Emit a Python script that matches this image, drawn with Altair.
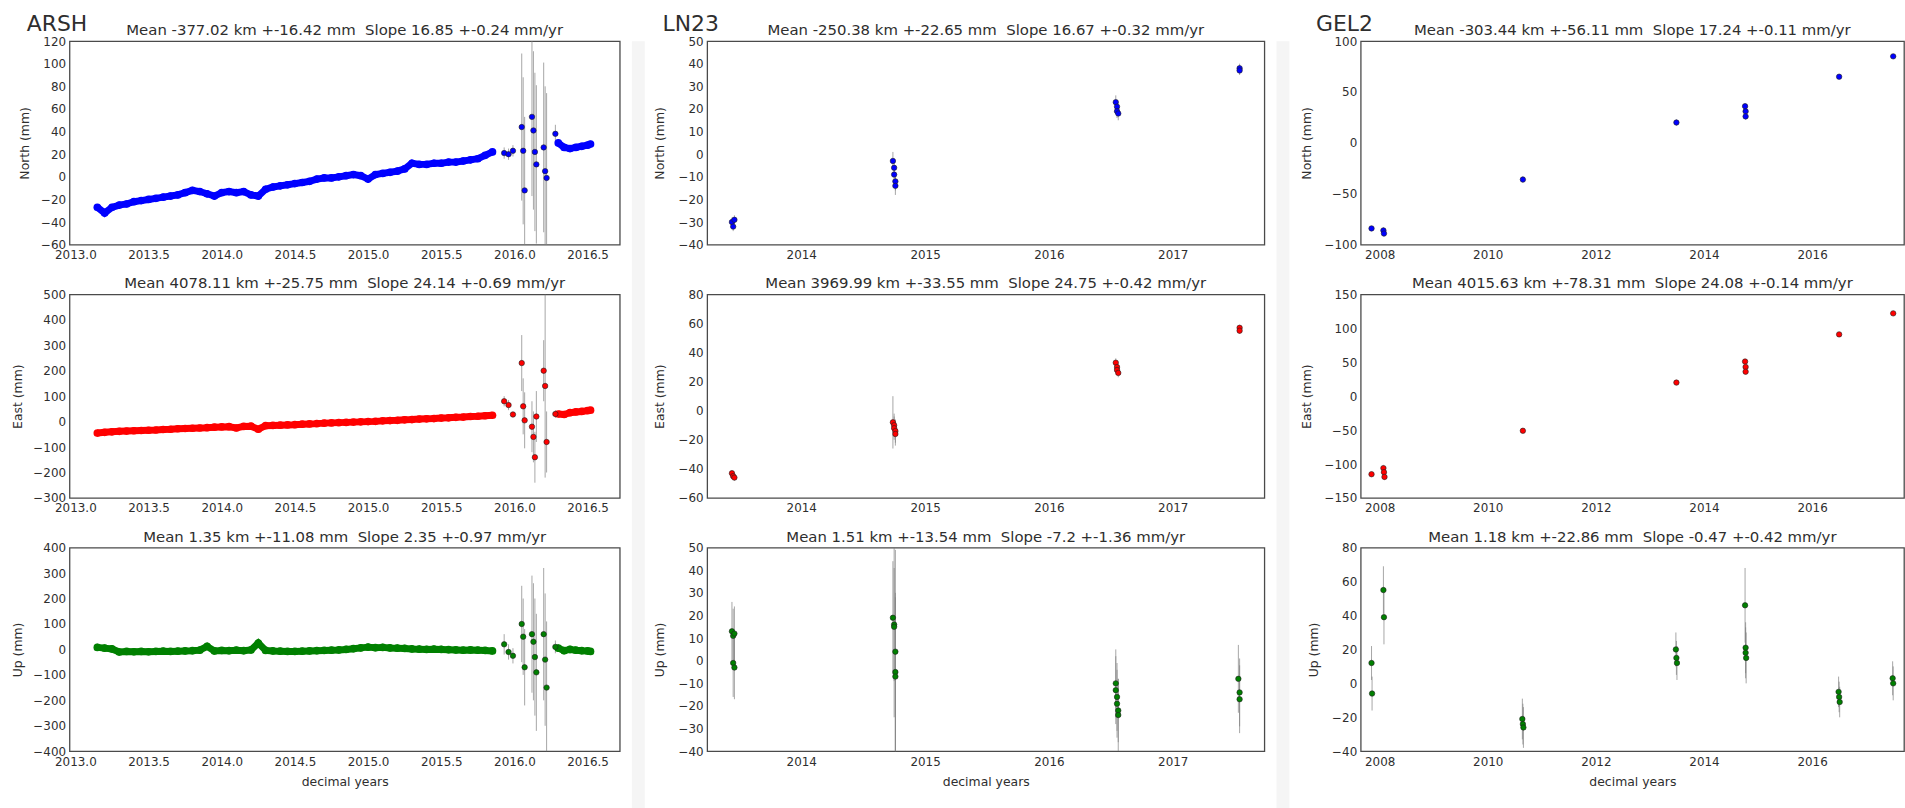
import altair as alt
import pandas as pd

FONT = "DejaVu Sans"
TXT = "#2e2e2e"
BLUE, RED, GREEN = "#0000ff", "#ff0000", "#008000"
ERR_COLOR = "#808080"

# ---------------------------------------------------------------- ARSH
# dense daily band (segment 1)
ARSH_T = [2013.15, 2013.20, 2013.25, 2013.30, 2013.35, 2013.40, 2013.45, 2013.50, 2013.55, 2013.60,
          2013.65, 2013.70, 2013.75, 2013.80, 2013.85, 2013.90, 2013.95, 2014.00, 2014.05, 2014.10,
          2014.15, 2014.20, 2014.25, 2014.30, 2014.35, 2014.40, 2014.45, 2014.50, 2014.55, 2014.60,
          2014.65, 2014.70, 2014.75, 2014.80, 2014.85, 2014.90, 2014.95, 2015.00, 2015.05, 2015.10,
          2015.15, 2015.20, 2015.25, 2015.30, 2015.35, 2015.40, 2015.45, 2015.50, 2015.55, 2015.60,
          2015.65, 2015.70, 2015.75, 2015.80, 2015.85]
ARSH_N = [-27, -32, -27, -25, -24, -22, -21, -20, -19, -18,
          -17, -16, -14, -12, -13, -15, -17, -14, -13, -14,
          -13, -16, -17, -11, -9, -8, -7, -6, -5, -4,
          -2, -1, -1, 0, 1, 2, 1, -2, 2, 3,
          4, 5, 7, 12, 11, 11, 12, 12, 13, 13,
          14, 15, 16, 19, 22]
ARSH_E = [-45, -42, -40, -38, -37, -36, -35, -34, -33, -31,
          -30, -28, -27, -26, -25, -24, -22, -21, -20, -25,
          -19, -18, -30, -16, -15, -14, -13, -12, -10, -9,
          -8, -6, -5, -4, -3, -2, -1, 0, 1, 3,
          4, 5, 7, 8, 10, 11, 12, 14, 15, 17,
          18, 20, 21, 23, 25]
ARSH_U = [8, 5, 2, -10, -8, -9, -8, -9, -8, -7,
          -8, -7, -6, -5, -3, 12, -6, -4, -5, -3,
          -5, -2, 25, -4, -6, -7, -8, -8, -7, -6,
          -5, -4, -3, -2, 0, 3, 6, 9, 7, 8,
          6, 5, 4, 2, 1, 0, 1, 0, -1, -2,
          -3, -2, -3, -4, -6]
ARSH_ERR = {"N": 3, "E": 6, "U": 14}
# dense daily band (segment 2, after the noisy period)
ARSH_T2 = [2016.30, 2016.34, 2016.38, 2016.42, 2016.46, 2016.50, 2016.52]
ARSH_N2 = [30, 26, 25, 26, 27, 28, 29]
ARSH_E2 = [30, 28, 35, 38, 40, 43, 45]
ARSH_U2 = [5, -5, 0, -3, -5, -6, -8]
# scattered solutions with large errors
ARSH_TS = [2015.93, 2015.96, 2015.99, 2016.05, 2016.06, 2016.07, 2016.12, 2016.13, 2016.14, 2016.15,
           2016.20, 2016.21, 2016.22, 2016.28]
ARSH_NS = [21, 20, 23, 44, 23, -12, 53, 41, 22, 11, 26, 5, -1, 38]
ARSH_NSE = [5, 5, 5, 65, 65, 65, 70, 70, 70, 70, 75, 75, 75, 8]
ARSH_ES = [80, 65, 28, 230, 60, 5, -20, -60, -140, 20, 200, 140, -80, 30]
ARSH_ESE = [20, 20, 10, 110, 110, 110, 100, 100, 100, 100, 120, 360, 120, 15]
ARSH_US = [20, -10, -25, 100, 50, -70, 60, 30, -30, -90, 60, -40, -150, 10]
ARSH_USE = [40, 30, 30, 150, 150, 150, 230, 230, 230, 230, 260, 260, 260, 25]

# ---------------------------------------------------------------- LN23
LN23_T = [2013.44, 2013.45, 2013.46, 2014.74, 2014.75, 2014.75, 2014.76, 2014.76,
          2016.54, 2016.55, 2016.55, 2016.56, 2017.54, 2017.54]
LN23_N = [-30, -32, -29, -3, -6, -9, -12, -14, 23, 21, 19, 18, 38, 37]
LN23_NE = [2, 2, 2, 4, 4, 4, 4, 4, 3, 3, 3, 3, 2, 2]
LN23_E = [-43, -45, -46, -8, -10, -12, -14, -16, 33, 30, 28, 26, 57, 55]
LN23_EE = [2, 2, 2, 18, 8, 8, 8, 8, 3, 3, 3, 3, 2, 2]
LN23_UT = [2013.44, 2013.45, 2013.45, 2013.46, 2013.46, 2014.74, 2014.75, 2014.75, 2014.76, 2014.76,
           2014.76, 2016.54, 2016.54, 2016.55, 2016.55, 2016.56, 2016.56, 2017.53, 2017.54, 2017.54]
LN23_U = [13, 11, -1, -3, 12, 19, 16, 15, 4, -5, -7, -10, -13, -16, -19, -22, -24, -8, -14, -17]
LN23_UE = [13, 12, 15, 14, 12, 25, 25, 40, 45, 35, 35, 15, 15, 15, 15, 14, 16, 15, 15, 15]

# ---------------------------------------------------------------- GEL2
GEL2_NT = [2007.85, 2008.07, 2008.08, 2010.65, 2013.49, 2014.76, 2014.77, 2014.77, 2016.50, 2017.50]
GEL2_N = [-84, -86, -89, -36, 20, 36, 31, 26, 65, 85]
GEL2_NE = [2, 3, 3, 3, 3, 3, 3, 3, 2, 2]
GEL2_ET = [2007.85, 2008.07, 2008.08, 2008.09, 2010.65, 2013.49, 2014.76, 2014.77, 2014.77, 2016.50, 2017.50]
GEL2_E = [-115, -106, -112, -119, -51, 20, 51, 43, 36, 91, 122]
GEL2_EE = [3, 4, 4, 4, 3, 3, 3, 3, 3, 2, 2]
GEL2_UT = [2007.85, 2007.86, 2008.07, 2008.08, 2010.64, 2010.65, 2010.66, 2013.48, 2013.49, 2013.50,
           2014.76, 2014.77, 2014.77, 2014.78, 2016.49, 2016.50, 2016.51, 2017.49, 2017.50]
GEL2_U = [12, -6, 55, 39, -21, -24, -26, 20, 15, 12, 46, 21, 18, 15, -5, -8, -11, 3, 0]
GEL2_UE = [10, 10, 14, 16, 12, 12, 12, 10, 10, 10, 22, 15, 15, 15, 9, 9, 9, 10, 10]

TITLES = {
    "ARSH": ["Mean -377.02 km +-16.42 mm  Slope 16.85 +-0.24 mm/yr",
             "Mean 4078.11 km +-25.75 mm  Slope 24.14 +-0.69 mm/yr",
             "Mean 1.35 km +-11.08 mm  Slope 2.35 +-0.97 mm/yr"],
    "LN23": ["Mean -250.38 km +-22.65 mm  Slope 16.67 +-0.32 mm/yr",
             "Mean 3969.99 km +-33.55 mm  Slope 24.75 +-0.42 mm/yr",
             "Mean 1.51 km +-13.54 mm  Slope -7.2 +-1.36 mm/yr"],
    "GEL2": ["Mean -303.44 km +-56.11 mm  Slope 17.24 +-0.11 mm/yr",
             "Mean 4015.63 km +-78.31 mm  Slope 24.08 +-0.14 mm/yr",
             "Mean 1.18 km +-22.86 mm  Slope -0.47 +-0.42 mm/yr"],
}
YLABELS = ["North (mm)", "East (mm)", "Up (mm)"]

X_ARSH = ([2012.96, 2016.72], [2013.0, 2013.5, 2014.0, 2014.5, 2015.0, 2015.5, 2016.0, 2016.5], ".1f")
X_LN23 = ([2013.24, 2017.74], [2014, 2015, 2016, 2017], "d")
X_GEL2 = ([2007.65, 2017.70], [2008, 2010, 2012, 2014, 2016], "d")

Y_ARSH = [([-60, 120], [-60, -40, -20, 0, 20, 40, 60, 80, 100, 120]),
          ([-300, 500], [-300, -200, -100, 0, 100, 200, 300, 400, 500]),
          ([-400, 400], [-400, -300, -200, -100, 0, 100, 200, 300, 400])]
Y_LN23 = [([-40, 50], [-40, -30, -20, -10, 0, 10, 20, 30, 40, 50]),
          ([-60, 80], [-60, -40, -20, 0, 20, 40, 60, 80]),
          ([-40, 50], [-40, -30, -20, -10, 0, 10, 20, 30, 40, 50])]
Y_GEL2 = [([-100, 100], [-100, -50, 0, 50, 100]),
          ([-150, 150], [-150, -100, -50, 0, 50, 100, 150]),
          ([-40, 80], [-40, -20, 0, 20, 40, 60, 80])]

COLORS = [BLUE, RED, GREEN]
ROW_H = 205
ROW_GAP = 50
TICK_FS = 12
AXTITLE_FS = 12.5
TITLE_FS = 15


def make_df(t, v, e, seg=0):
    df = pd.DataFrame({"t": t, "v": v})
    df["e"] = e
    df["lo"] = df["v"] - df["e"]
    df["hi"] = df["v"] + df["e"]
    df["seg"] = seg
    return df


def enc_x(xspec, xtitle):
    dom, vals, fmt = xspec
    return alt.X("t:Q", scale=alt.Scale(domain=dom, nice=False, zero=False),
                 axis=alt.Axis(values=vals, format=fmt, title=xtitle, grid=False, ticks=False,
                               domain=False, labelPadding=5, labelFontSize=TICK_FS,
                               titleFontSize=AXTITLE_FS, titlePadding=9, labelFlush=False,
                               labelOverlap=False, titleFontWeight="normal"))


def enc_y(field, yspec, ytitle, tpad):
    dom, vals = yspec
    return alt.Y(f"{field}:Q", scale=alt.Scale(domain=dom, nice=False, zero=False),
                 axis=alt.Axis(values=vals, format="d", title=ytitle, grid=False, ticks=False,
                               domain=False, labelPadding=4, labelFontSize=TICK_FS,
                               titleFontSize=AXTITLE_FS, titlePadding=tpad, labelFlush=False,
                               labelOverlap=False, titleFontWeight="normal"))


def panel(sparse, dense, color, title, ylabel, xspec, yspec, width, xtitle, tpad):
    X = enc_x(xspec, xtitle)
    Y = enc_y("v", yspec, ylabel, tpad)
    YLO = enc_y("lo", yspec, ylabel, tpad)
    layers = [alt.Chart(sparse).mark_rule(clip=True, color=ERR_COLOR, strokeWidth=1, opacity=0.7)
              .encode(x=X, y=YLO, y2="hi:Q")]
    if dense is not None:
        dch = alt.Chart(dense)
        layers.append(dch.mark_rule(clip=True, color=color, strokeWidth=1.5).encode(x=X, y=YLO, y2="hi:Q"))
        layers.append(dch.mark_line(clip=True, color=color, strokeWidth=7).encode(x=X, y=Y, detail="seg:N"))
        layers.append(dch.mark_circle(clip=True, color=color, size=60, opacity=1).encode(x=X, y=Y))
    layers.append(alt.Chart(sparse).mark_point(clip=True, filled=True, fill=color, stroke="#202020",
                                               strokeWidth=0.6, size=30, opacity=1)
                  .encode(x=X, y=Y))
    return alt.layer(*layers).properties(
        width=width, height=ROW_H,
        title=alt.TitleParams(text=title.replace("  ", " \u00a0"), fontSize=TITLE_FS,
                              fontWeight="normal", anchor="middle", frame="group", offset=5, dy=8,
                              color=TXT, font=FONT))


def column(name, comps, xspec, yspecs, width, dx, tpad):
    charts = []
    for i, (sparse, dense) in enumerate(comps):
        charts.append(panel(sparse, dense, COLORS[i], TITLES[name][i], YLABELS[i], xspec, yspecs[i],
                            width, "decimal years" if i == 2 else None, tpad))
    return alt.vconcat(*charts, spacing=ROW_GAP, bounds="flush",
                       title=alt.TitleParams(text=name, anchor="start", frame="group", dx=dx, dy=17,
                                             fontSize=22, fontWeight="normal", color=TXT, font=FONT))


def spacer(w, fill="white", h=10):
    return alt.Chart(pd.DataFrame({"t": [0]})).mark_point(opacity=0).encode(
        x=alt.X("t:Q", axis=None), y=alt.Y("t:Q", axis=None)
    ).properties(width=w, height=h, view=alt.ViewBackground(stroke="transparent", fill=fill))


arsh = [
    (make_df(ARSH_TS, ARSH_NS, ARSH_NSE),
     pd.concat([make_df(ARSH_T, ARSH_N, ARSH_ERR["N"], 0), make_df(ARSH_T2, ARSH_N2, ARSH_ERR["N"], 1)])),
    (make_df(ARSH_TS, ARSH_ES, ARSH_ESE),
     pd.concat([make_df(ARSH_T, ARSH_E, ARSH_ERR["E"], 0), make_df(ARSH_T2, ARSH_E2, ARSH_ERR["E"], 1)])),
    (make_df(ARSH_TS, ARSH_US, ARSH_USE),
     pd.concat([make_df(ARSH_T, ARSH_U, ARSH_ERR["U"], 0), make_df(ARSH_T2, ARSH_U2, ARSH_ERR["U"], 1)])),
]
ln23 = [
    (make_df(LN23_T, LN23_N, LN23_NE), None),
    (make_df(LN23_T, LN23_E, LN23_EE), None),
    (make_df(LN23_UT, LN23_U, LN23_UE), None),
]
gel2 = [
    (make_df(GEL2_NT, GEL2_N, GEL2_NE), None),
    (make_df(GEL2_ET, GEL2_E, GEL2_EE), None),
    (make_df(GEL2_UT, GEL2_U, GEL2_UE), None),
]

colA = column("ARSH", arsh, X_ARSH, Y_ARSH, 554, -43, 8.5)
colL = column("LN23", ln23, X_LN23, Y_LN23, 561, -45, 12)
colG = column("GEL2", gel2, X_GEL2, Y_GEL2, 547, -45, 11)

STRIP = "#f5f5f5"
chart = alt.hconcat(
    colA, spacer(8), spacer(13, STRIP, 800), spacer(1),
    colL, spacer(8), spacer(13, STRIP, 800), spacer(6.5),
    colG, spacing=0
).properties(
    padding={"left": 10, "top": 9.5, "right": 0, "bottom": 0}, background="white"
).configure_view(stroke="#4a4a4a", strokeWidth=1.3).configure_axis(
    labelColor=TXT, titleColor=TXT, labelFont=FONT, titleFont=FONT
).configure_title(font=FONT, color=TXT)

chart.save("out.html", embed_options={"renderer": "svg", "actions": False})
